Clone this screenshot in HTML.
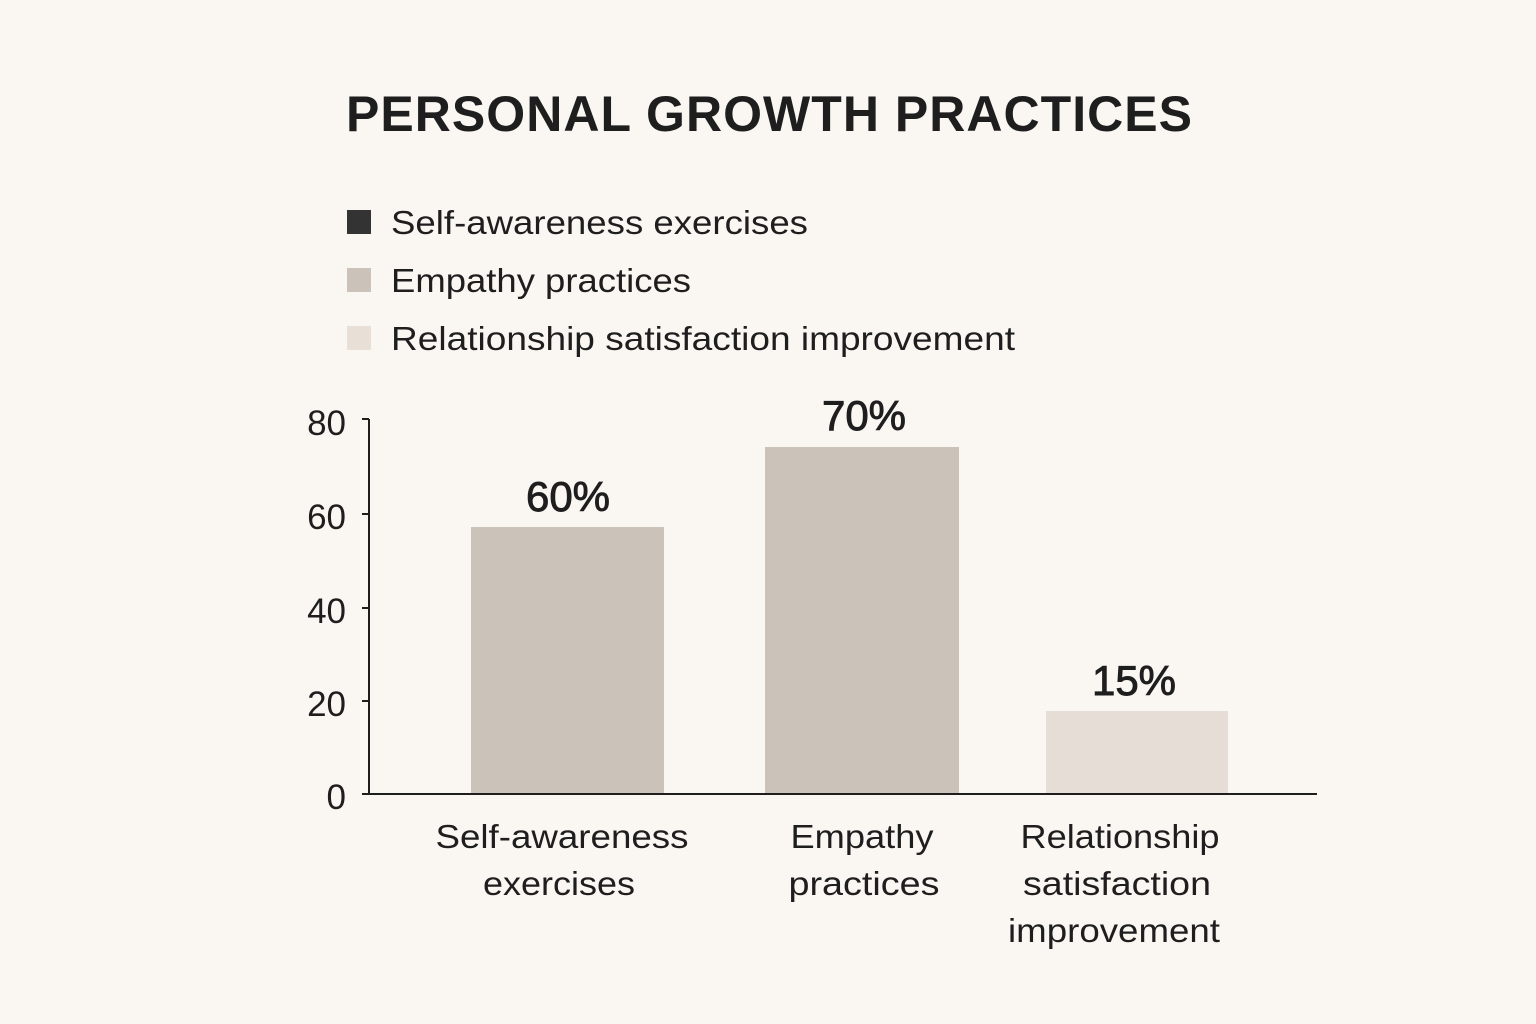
<!DOCTYPE html>
<html><head><meta charset="utf-8"><style>
html,body{margin:0;padding:0;background:#faf6f2;}
svg{display:block;font-family:"Liberation Sans",sans-serif;}
</style></head><body>
<svg width="1536" height="1024" viewBox="0 0 1536 1024">
<rect width="1536" height="1024" fill="#faf6f2"/>
<text x="346" y="131" font-size="50" font-weight="bold" fill="#1e1e1e" textLength="846" lengthAdjust="spacing">PERSONAL GROWTH PRACTICES</text>
<rect x="347" y="210" width="24" height="24" fill="#333333"/>
<text x="391" y="234" font-size="33" fill="#1e1e1e" textLength="417" lengthAdjust="spacingAndGlyphs">Self-awareness exercises</text>
<rect x="347" y="268" width="24" height="24" fill="#cbc3b9"/>
<text x="391" y="292" font-size="33" fill="#1e1e1e" textLength="300" lengthAdjust="spacingAndGlyphs">Empathy practices</text>
<rect x="347" y="326" width="24" height="24" fill="#e8e0d6"/>
<text x="391" y="350" font-size="33" fill="#1e1e1e" textLength="624" lengthAdjust="spacingAndGlyphs">Relationship satisfaction improvement</text>
<rect x="471" y="527" width="193" height="266" fill="#cbc3b9"/>
<rect x="765" y="447" width="194" height="346" fill="#cbc3b9"/>
<rect x="1046" y="711" width="182" height="82" fill="#e6ded6"/>
<g stroke="#1e1e1e" stroke-width="2" fill="none">
<line x1="369" y1="419" x2="369" y2="794"/>
<line x1="362" y1="794" x2="1317" y2="794"/>
<line x1="362" y1="419" x2="369" y2="419"/>
<line x1="362" y1="514" x2="369" y2="514"/>
<line x1="362" y1="608" x2="369" y2="608"/>
<line x1="362" y1="701" x2="369" y2="701"/>
</g>
<g font-size="35" fill="#1e1e1e" text-anchor="end">
<text x="346" y="435">80</text>
<text x="346" y="529">60</text>
<text x="346" y="623">40</text>
<text x="346" y="716">20</text>
<text x="346" y="809">0</text>
</g>
<g font-size="42" fill="#1e1e1e" stroke="#1e1e1e" stroke-width="0.9" text-anchor="middle">
<text x="568" y="511">60%</text>
<text x="864" y="430">70%</text>
<text x="1134" y="695">15%</text>
</g>
<g font-size="33" fill="#1e1e1e" text-anchor="middle" lengthAdjust="spacingAndGlyphs">
<text x="562" y="848" textLength="253" lengthAdjust="spacingAndGlyphs">Self-awareness</text>
<text x="559" y="895" textLength="152" lengthAdjust="spacingAndGlyphs">exercises</text>
<text x="862" y="848" textLength="143" lengthAdjust="spacingAndGlyphs">Empathy</text>
<text x="864" y="895" textLength="151" lengthAdjust="spacingAndGlyphs">practices</text>
<text x="1120" y="848" textLength="199" lengthAdjust="spacingAndGlyphs">Relationship</text>
<text x="1117" y="895" textLength="188" lengthAdjust="spacingAndGlyphs">satisfaction</text>
<text x="1114" y="942" textLength="212" lengthAdjust="spacingAndGlyphs">improvement</text>
</g>
</svg>
</body></html>
